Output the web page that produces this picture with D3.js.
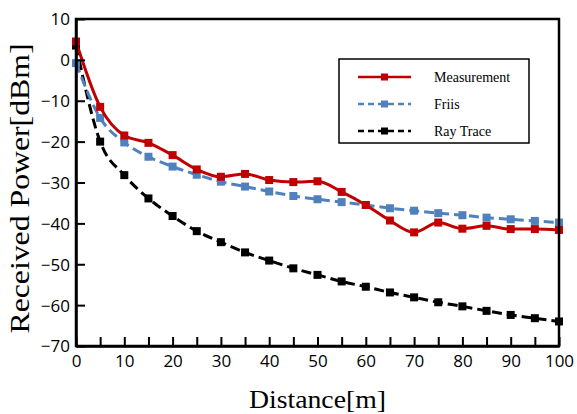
<!DOCTYPE html>
<html lang="en">
  <head>
    <meta charset="UTF-8">
    <script src="https://cdn.jsdelivr.net/npm/d3@7"></script>
    <style>
      body { margin: 0; background: #fff; }
    </style>
    <title>Received Power vs Distance</title>
  </head>
  <body>
    <script type="text/javascript">
      // Received power vs distance: measurement, Friis, ray trace

      let distance = [0, 5, 10, 15, 20, 25, 30, 35, 40, 45, 50, 55, 60, 65, 70, 75, 80, 85, 90, 95, 100];
      let measurement = [4.5, -11.5, -18.5, -20.3, -23.3, -26.8, -28.6, -27.9, -29.4, -29.9, -29.7,
                         -32.3, -35.5, -39.3, -42.2, -39.8, -41.3, -40.6, -41.4, -41.4, -41.6];
      let friis = [-0.8, -14.2, -20.2, -23.7, -26.1, -28.1, -29.8, -31.0, -32.2, -33.3, -34.1,
                   -34.8, -35.5, -36.3, -36.9, -37.5, -38.0, -38.6, -39.0, -39.4, -39.8];
      let rayTrace = [3.5, -20.0, -28.2, -33.9, -38.2, -41.9, -44.6, -47.1, -49.1, -51.0, -52.6,
                      -54.2, -55.5, -56.9, -58.1, -59.3, -60.3, -61.4, -62.4, -63.2, -64.0];
      let xTicks = [0, 10, 20, 30, 40, 50, 60, 70, 80, 90, 100];
      let yTicks = [10, 0, -10, -20, -30, -40, -50, -60, -70];
      let seriesNames = ['Measurement', 'Friis', 'Ray Trace'];

      let w = 577;
      let h = 414;
      let margin = {left: 76, right: 18, top: 19, bottom: 68};

      let series = [
        {name: seriesNames[0], values: measurement, color: '#c00000', dash: null},
        {name: seriesNames[1], values: friis, color: '#4f81bd', dash: '10,5'},
        {name: seriesNames[2], values: rayTrace, color: '#000000', dash: '10,5'}
      ];

      let xScale = d3.scaleLinear()
                      .domain([0, 100])
                      .range([margin.left, w - margin.right]);

      let yScale = d3.scaleLinear()
                      .domain([-70, 10])
                      .range([h - margin.bottom, margin.top]);

      let svg = d3.select('body')
                  .append('svg')
                  .attr('width', w)
                  .attr('height', h);

      // Lines and markers
      let line = d3.line()
                   .x(d => xScale(d[0]))
                   .y(d => yScale(d[1]))
                   .curve(d3.curveMonotoneX);

      series.slice().reverse().forEach(s => {
        let pts = distance.map((d, i) => [d, s.values[i]]);
        svg.append('path')
           .attr('d', line(pts))
           .attr('fill', 'none')
           .attr('stroke', s.color)
           .attr('stroke-width', 3)
           .attr('stroke-dasharray', s.dash);
        svg.selectAll(null)
           .data(pts)
           .enter()
           .append('rect')
           .attr('x', d => xScale(d[0]) - 4)
           .attr('y', d => yScale(d[1]) - 4)
           .attr('width', 8)
           .attr('height', 8)
           .attr('fill', s.color);
      });

      // Frame
      svg.append('rect')
         .attr('x', xScale(0))
         .attr('y', yScale(10))
         .attr('width', xScale(100) - xScale(0))
         .attr('height', yScale(-70) - yScale(10))
         .attr('fill', 'none')
         .attr('stroke', '#000')
         .attr('stroke-width', 2.5);

      // Axes with inward ticks
      let xAxis = d3.axisBottom(xScale)
                    .tickValues(d3.range(0, 101, 5))
                    .tickSizeInner(-9)
                    .tickSizeOuter(0)
                    .tickFormat(d => xTicks.includes(d) ? d : '');
      let gx = svg.append('g')
                  .attr('transform', `translate(0,${yScale(-70)})`)
                  .call(xAxis);

      let yAxis = d3.axisLeft(yScale)
                    .tickValues(yTicks)
                    .tickSizeInner(-9)
                    .tickSizeOuter(0);
      let gy = svg.append('g')
                  .attr('transform', `translate(${xScale(0)},0)`)
                  .call(yAxis);

      [gx, gy].forEach(g => {
        g.select('.domain').attr('stroke-width', 2.5);
        g.selectAll('.tick line').attr('stroke-width', 2);
        g.selectAll('.tick text')
         .attr('font-family', "'Open Sans', sans-serif")
         .attr('font-size', 17)
         .attr('fill', '#000');
      });
      gx.selectAll('.tick text').attr('dy', '1.05em');
      gy.selectAll('.tick text').attr('x', -6).attr('dy', '0.35em');

      // Axis titles
      svg.append('text')
         .text('Distance[m]')
         .attr('x', (xScale(0) + xScale(100)) / 2)
         .attr('y', 408)
         .attr('text-anchor', 'middle')
         .attr('font-family', "'Liberation Serif', serif")
         .attr('font-size', 26)
         .attr('textLength', 137)
         .attr('lengthAdjust', 'spacingAndGlyphs');

      svg.append('text')
         .text('Received Power[dBm]')
         .attr('transform', `translate(29,${(yScale(10) + yScale(-70)) / 2 + 6}) rotate(-90)`)
         .attr('text-anchor', 'middle')
         .attr('font-family', "'Liberation Serif', serif")
         .attr('font-size', 28)
         .attr('textLength', 290)
         .attr('lengthAdjust', 'spacingAndGlyphs');

      // Legend
      let legend = svg.append('g');
      legend.append('rect')
            .attr('x', 339)
            .attr('y', 59)
            .attr('width', 190)
            .attr('height', 84)
            .attr('fill', '#fff')
            .attr('stroke', '#000')
            .attr('stroke-width', 1.5);

      let legendY = d3.scalePoint()
                      .domain(seriesNames)
                      .range([77, 131]);

      series.forEach(s => {
        let y = legendY(s.name);
        legend.append('line')
              .attr('x1', 358)
              .attr('x2', 411)
              .attr('y1', y)
              .attr('y2', y)
              .attr('stroke', s.color)
              .attr('stroke-width', 2.5)
              .attr('stroke-dasharray', s.dash ? '6,4' : null);
        legend.append('rect')
              .attr('x', 381)
              .attr('y', y - 3.5)
              .attr('width', 7)
              .attr('height', 7)
              .attr('fill', s.color);
        legend.append('text')
              .text(s.name)
              .attr('x', 434)
              .attr('y', y + 4.5)
              .attr('font-family', "'Liberation Serif', serif")
              .attr('font-size', 14)
              .attr('fill', '#000');
      });
    </script>
  </body>
</html>
